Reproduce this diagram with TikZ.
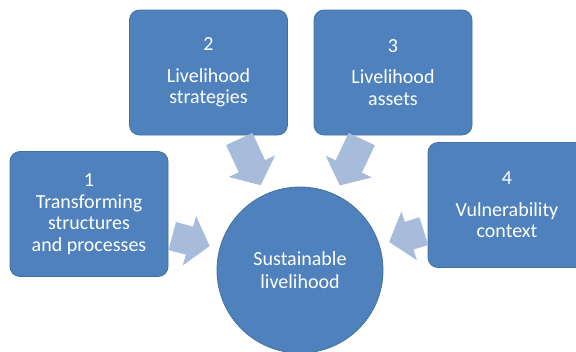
\documentclass[tikz,border=0pt]{standalone}
\usepackage{fontspec}
\setmainfont{Carlito}
\usetikzlibrary{arrows.meta}
\definecolor{boxblue}{HTML}{4F81BD}
\definecolor{boxline}{HTML}{41719C}
\definecolor{arrowblue}{HTML}{A7BBDA}

\begin{document}
\begin{tikzpicture}[x=1pt, y=-1pt,
  box/.style={rectangle, rounded corners=10pt, fill=boxblue, draw=boxline, line width=0.8pt,
    minimum width=158pt, minimum height=125pt, align=center, text=white, inner sep=0pt,
    font=\fontsize{20}{21.5}\selectfont},
  hub/.style={circle, fill=boxblue, draw=boxline, line width=0.8pt, minimum size=166pt,
    align=center, text=white, inner sep=0pt, font=\fontsize{20}{22.5}\selectfont},
  blockarr/.style={draw=arrowblue, line width=29pt, -{Triangle[length=21pt, width=50pt]},
    shorten <=4pt, shorten >=10pt}]
  \useasboundingbox (0,0) rectangle (576,351);
  \node[box] (b1) at (89,214) {1\\Transforming\\structures\\and processes};
  \node[box] (b2) at (208.5,72.5) {2\\[10pt]Livelihood\\strategies};
  \node[box] (b3) at (393,72.5) {3\\[10pt]Livelihood\\assets};
  \node[box] (b4) at (507,205) {4\\[10pt]Vulnerability\\context};
  \node[hub] (sl) at (300,270) {Sustainable\\livelihood};
  \draw[blockarr] (b1) -- (sl); \draw[blockarr] (b2) -- (sl);
  \draw[blockarr] (b3) -- (sl); \draw[blockarr] (b4) -- (sl);
\end{tikzpicture}
\end{document}
